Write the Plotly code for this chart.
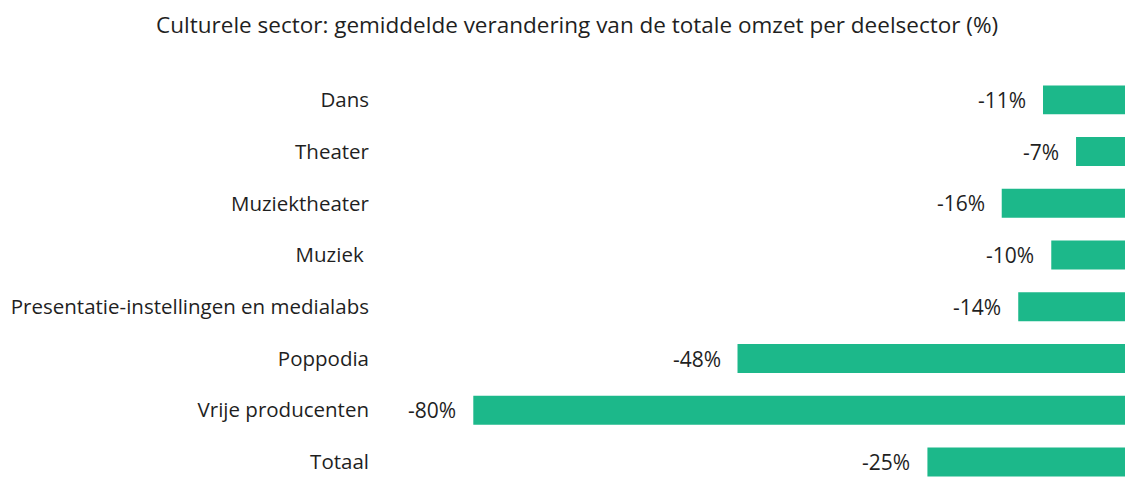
import plotly.graph_objects as go

categories = ["Dans", "Theater", "Muziektheater", "Muziek ", "Presentatie-instellingen en medialabs",
              "Poppodia", "Vrije producenten", "Totaal"]
values = [-11, -7, -16, -10, -14, -48, -80, -25]
labels = [f"{v}%" for v in values]

FONT = "Open Sans"
TXT = "#1f1f1f"

fig = go.Figure(go.Bar(
    x=values, y=categories, orientation="h",
    marker=dict(color="#1cb88a", line=dict(width=0)),
    hoverinfo="skip",
))

for c, v, t in zip(categories, values, labels):
    fig.add_annotation(x=v, y=c, text=t, showarrow=False, xanchor="right",
                       xshift=-15, font=dict(family=FONT, size=21, color=TXT))

fig.update_layout(
    width=1125, height=478,
    margin=dict(l=380, r=0, t=74, b=0),
    paper_bgcolor="white", plot_bgcolor="white",
    bargap=0.44,
    showlegend=False,
    title=dict(text="Culturele sector: gemiddelde verandering van de totale omzet per deelsector (%)",
               x=0.513, xanchor="center", y=0.948, yanchor="middle",
               font=dict(family=FONT, size=22.5, color=TXT)),
    xaxis=dict(range=[-91.3, -1.07], visible=False),
    yaxis=dict(range=[7.31, -0.5], showgrid=False, zeroline=False, showline=False,
               ticks="", ticklabelstandoff=10,
               tickfont=dict(family=FONT, size=20.5, color=TXT)),
)

fig.write_html("out.html", config={"displayModeBar": False},
               post_script="document.body.style.margin='0';")
